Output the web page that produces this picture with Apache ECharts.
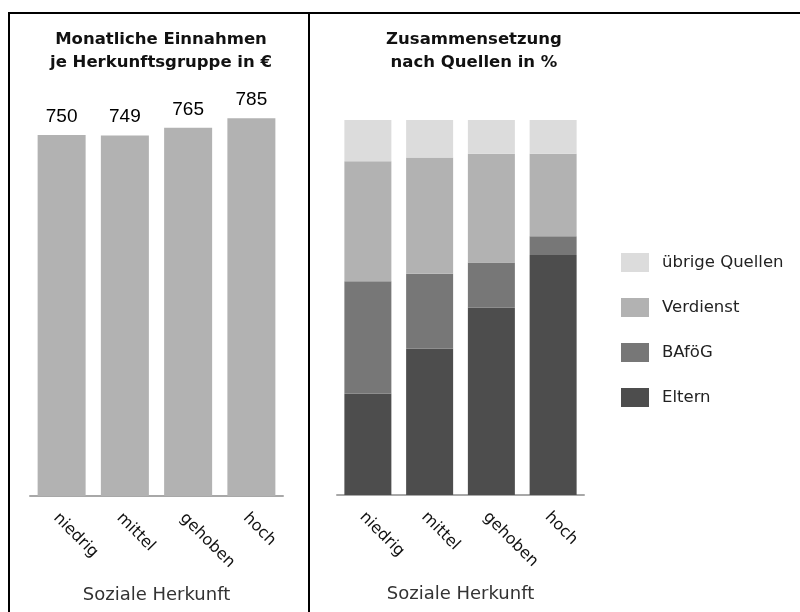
<!DOCTYPE html>
<html>
<head>
<meta charset="utf-8">
<script src="https://cdn.jsdelivr.net/npm/echarts@6/dist/echarts.min.js"></script>
<style>
  html, body { margin: 0; padding: 0; background: #fff; }
  #chart { width: 800px; height: 612px; }
</style>
</head>
<body>
<div id="chart"></div>
<script>
// Social background groups
const categories = ['niedrig', 'mittel', 'gehoben', 'hoch'];

// Monthly income per group in €
const income = [750, 749, 765, 785];

// Composition by source in %
const eltern = [27, 39, 50, 64];
const bafoeg = [30, 20, 12, 5];
const verdienst = [32, 31, 29, 22];
const uebrige = [11, 10, 9, 9];

const sourceNames = ['übrige Quellen', 'Verdienst', 'BAföG', 'Eltern'];

const FONT = 'DejaVu Sans';
const chart = echarts.init(document.getElementById('chart'));

const xAxisCommon = {
  type: 'category',
  data: categories,
  axisTick: { show: false },
  axisLine: { lineStyle: { color: '#a8a8a8', width: 2 } },
  axisLabel: {
    rotate: -45, fontSize: 16, fontFamily: FONT, color: '#111',
    margin: 14, verticalAlign: 'top'
  },
  name: 'Soziale Herkunft',
  nameLocation: 'middle',
  nameGap: 90,
  nameTextStyle: { fontSize: 18, fontFamily: FONT, color: '#333' }
};

const titleStyle = {
  fontSize: 16.5, fontWeight: 'bold', fontFamily: FONT, color: '#111', lineHeight: 23
};

chart.setOption({
  animation: false,
  backgroundColor: '#fff',
  title: [
    {
      text: 'Monatliche Einnahmen\nje Herkunftsgruppe in €',
      left: 156, top: 23, textAlign: 'center', textStyle: titleStyle
    },
    {
      text: 'Zusammensetzung\nnach Quellen in %',
      left: 469, top: 23, textAlign: 'center', textStyle: titleStyle
    }
  ],
  legend: {
    data: sourceNames,
    orient: 'vertical',
    left: 616, top: 248,
    icon: 'rect',
    itemWidth: 28, itemHeight: 19, itemGap: 26,
    textStyle: { fontSize: 16.5, fontFamily: FONT, color: '#222', padding: [0, 0, 0, 8] }
  },
  grid: [
    { left: 30, width: 253, top: 111, bottom: 116 },
    { left: 337, width: 247, top: 120, bottom: 117 }
  ],
  xAxis: [
    Object.assign({ gridIndex: 0 }, xAxisCommon),
    Object.assign({ gridIndex: 1 }, xAxisCommon)
  ],
  yAxis: [
    { gridIndex: 0, type: 'value', min: 0, max: 800, show: false },
    { gridIndex: 1, type: 'value', min: 0, max: 100, show: false }
  ],
  series: [
    {
      type: 'bar', xAxisIndex: 0, yAxisIndex: 0,
      data: income, barWidth: 48,
      itemStyle: { color: '#b2b2b2' },
      label: {
        show: true, position: 'top', distance: 9,
        fontSize: 19, fontFamily: 'Liberation Sans', color: '#000'
      }
    },
    {
      name: 'Eltern', type: 'bar', stack: 'q', xAxisIndex: 1, yAxisIndex: 1,
      data: eltern, barWidth: 47, itemStyle: { color: '#4d4d4d' }
    },
    {
      name: 'BAföG', type: 'bar', stack: 'q', xAxisIndex: 1, yAxisIndex: 1,
      data: bafoeg, barWidth: 47, itemStyle: { color: '#777777' }
    },
    {
      name: 'Verdienst', type: 'bar', stack: 'q', xAxisIndex: 1, yAxisIndex: 1,
      data: verdienst, barWidth: 47, itemStyle: { color: '#b2b2b2' }
    },
    {
      name: 'übrige Quellen', type: 'bar', stack: 'q', xAxisIndex: 1, yAxisIndex: 1,
      data: uebrige, barWidth: 47, itemStyle: { color: '#dcdcdc' }
    }
  ],
  graphic: [
    { type: 'line', shape: { x1: 8, y1: 13, x2: 800, y2: 13 }, style: { stroke: '#000', lineWidth: 2 } },
    { type: 'line', shape: { x1: 9, y1: 12, x2: 9, y2: 612 }, style: { stroke: '#000', lineWidth: 2 } },
    { type: 'line', shape: { x1: 309, y1: 12, x2: 309, y2: 612 }, style: { stroke: '#000', lineWidth: 2 } }
  ]
});
</script>
</body>
</html>
